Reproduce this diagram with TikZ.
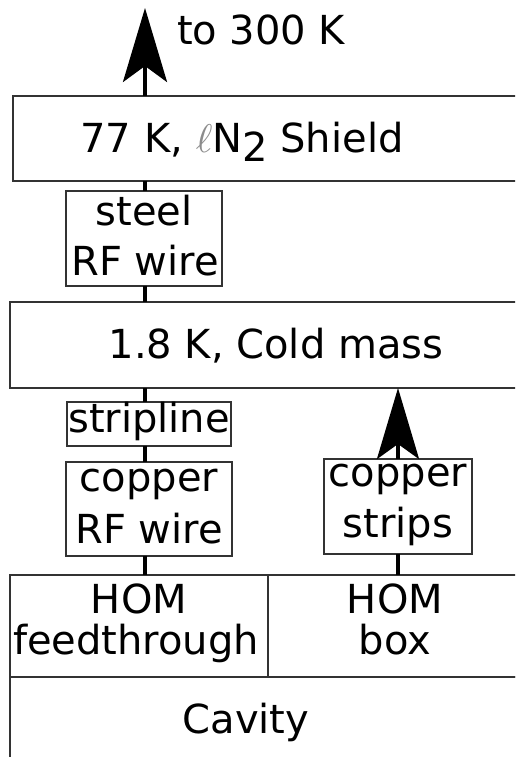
\documentclass[tikz,border=0pt]{standalone}
\usepackage{fontspec}
\setmainfont{DejaVu Sans}
\usetikzlibrary{arrows.meta}
\tikzset{
  box/.style={draw=black!80, line width=1.3pt, inner sep=0pt, outer sep=0pt, fill=white},
  txt/.style={inner sep=0pt, outer sep=0pt, anchor=base, font=\fontsize{40}{48}\selectfont},
  conn/.style={line width=3.5pt, black},
  bigarrow/.style={conn, -{Stealth[length=74pt, width=44pt, inset=16pt]}}
}
\newcommand{\thinell}{\textcolor{black!45}{\scalebox{4}{\normalsize$\ell$}}}
\begin{document}
\begin{tikzpicture}[x=1pt,y=-1pt]
\useasboundingbox (0,0) rectangle (515,757);
\clip (0,0) rectangle (515,757);
\fill[white] (0,0) rectangle (515,757);
% boxes
\node[box, minimum width=527pt, minimum height=85pt] (n77) at (276.5,138.5) {};
\node[box, minimum width=156pt, minimum height=95pt] (steel) at (144,238.5) {};
\node[box, minimum width=530pt, minimum height=86pt] (cold) at (275,345) {};
\node[box, minimum width=164pt, minimum height=44pt] (strip) at (149,424) {};
\node[box, minimum width=166pt, minimum height=94pt] (cu) at (149,509) {};
\node[box, minimum width=148pt, minimum height=95pt] (cus) at (398,506.5) {};
\node[box, minimum width=258pt, minimum height=102pt] (homf) at (139,626) {};
\node[box, minimum width=272pt, minimum height=102pt] (homb) at (404,626) {};
\node[box, minimum width=530pt, minimum height=123pt] (cav) at (275,738.5) {};
% texts
\node[txt, anchor=base west] (t300) at (177,45) {to 300 K};
\node[txt] (t77) at (242,153) {77 K, \thinell N\raisebox{-9pt}{2} Shield};
\node[txt] (ts1) at (144,225) {steel};
\node[txt] (ts2) at (145,275) {RF wire};
\node[txt] (tcold) at (276,358) {1.8 K, Cold mass};
\node[txt] (tstrip) at (149,432) {stripline};
\node[txt] (tcu1) at (149,491) {copper};
\node[txt] (tcu2) at (149,543) {RF wire};
\node[txt] (tcs1) at (398,486) {copper};
\node[txt] (tcs2) at (398,537) {strips};
\node[txt] (th1) at (139,613) {HOM};
\node[txt] (th2) at (136,654) {feedthrough};
\node[txt] (tb1) at (395,613) {HOM};
\node[txt] (tb2) at (395,654) {box};
\node[txt] (tcav) at (246,733) {Cavity};
% connectors
\coordinate (top) at (145,8);
\draw[bigarrow] (n77.north -| top) -- (top);
\draw[conn] (n77.south -| top) -- (steel.north -| top);
\draw[conn] (steel.south -| top) -- (cold.north -| top);
\draw[conn] (cold.south -| top) -- (strip.north -| top);
\draw[conn] (strip.south -| top) -- (cu.north -| top);
\draw[conn] (cu.south -| top) -- (homf.north -| top);
\draw[conn, -{Stealth[length=71pt, width=42pt, inset=15pt]}] (cus.north) -- (cold.south -| cus.north);
\draw[conn] (cus.south) -- (homb.north -| cus.south);
\end{tikzpicture}
\end{document}
